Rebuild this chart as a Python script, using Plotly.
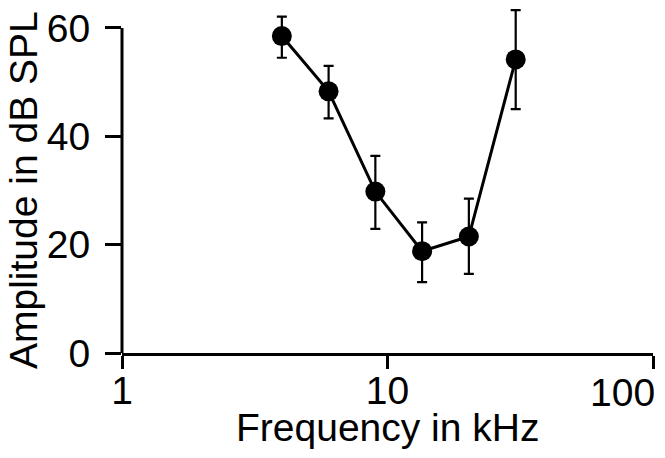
import plotly.graph_objects as go

freq_khz = [4, 6, 9, 13.5, 20.25, 30.4]
amplitude_db = [58.5, 48.3, 29.8, 18.8, 21.5, 54.2]
err_plus = [3.6, 4.7, 6.6, 5.3, 7.0, 9.1]
err_minus = [4.0, 5.0, 6.9, 5.7, 6.9, 9.2]
x_tick_vals = [1, 10, 100]
x_tick_text = ["1", "10", ""]
last_x_label = "100"
y_tick_vals = [0, 20, 40, 60]
y_axis_top = 60
x_title = "Frequency in kHz"
y_title = "Amplitude in dB SPL"

FONT = "Liberation Sans, Arial, sans-serif"
FS = 39

fig = go.Figure()
fig.add_trace(go.Scatter(
    x=freq_khz, y=amplitude_db,
    mode="lines+markers",
    line=dict(color="black", width=3),
    marker=dict(color="black", size=20),
    error_y=dict(type="data", symmetric=False, array=err_plus, arrayminus=err_minus,
                 color="black", thickness=2.2, width=5),
    cliponaxis=False,
    showlegend=False,
))

# page body adds an 8px offset, so the figure is sized to fit the window
fig.update_layout(
    width=657, height=450,
    margin=dict(l=114, r=12, t=1, b=105),
    paper_bgcolor="white", plot_bgcolor="white",
    font=dict(family=FONT, color="black", size=FS),
)
fig.update_xaxes(
    type="log", range=[0, 2], automargin=False,
    tickvals=x_tick_vals, ticktext=x_tick_text,
    ticks="outside", ticklen=13, tickwidth=3, tickcolor="black",
    ticklabelstandoff=-12, ticklabeloverflow="allow",
    showline=True, linewidth=3, linecolor="black",
    showgrid=False, zeroline=False,
    tickfont=dict(size=FS),
)
fig.update_yaxes(
    range=[0, 63.5], tickvals=y_tick_vals, automargin=False,
    ticks="outside", ticklen=16, tickwidth=3, tickcolor="black",
    ticklabelstandoff=7, ticklabeloverflow="allow",
    showline=False,
    showgrid=False, zeroline=False,
    tickfont=dict(size=FS),
)
# y axis line stops at the top tick, as in the reference
fig.add_shape(type="line", xref="paper", yref="y", x0=0, x1=0, y0=0, y1=y_axis_top,
              line=dict(color="black", width=3))
# the "100" label sits flush with the right edge, as in the reference
fig.add_annotation(
    x=2, y=0, xref="x", yref="y", text=last_x_label, showarrow=False,
    xanchor="right", yanchor="top", xshift=4, yshift=-16,
    font=dict(family=FONT, size=FS, color="black"),
)
# axis titles
fig.add_annotation(
    x=0.5, y=0, xref="paper", yref="y", text=x_title, showarrow=False,
    xanchor="center", yanchor="top", yshift=-51,
    font=dict(family=FONT, size=FS, color="black"),
)
fig.add_annotation(
    x=0, y=y_axis_top / 2, xref="paper", yref="y", text=y_title, showarrow=False,
    textangle=-90, xanchor="right", yanchor="middle", xshift=-75,
    font=dict(family=FONT, size=FS, color="black"),
)

fig.write_html("out.html")
